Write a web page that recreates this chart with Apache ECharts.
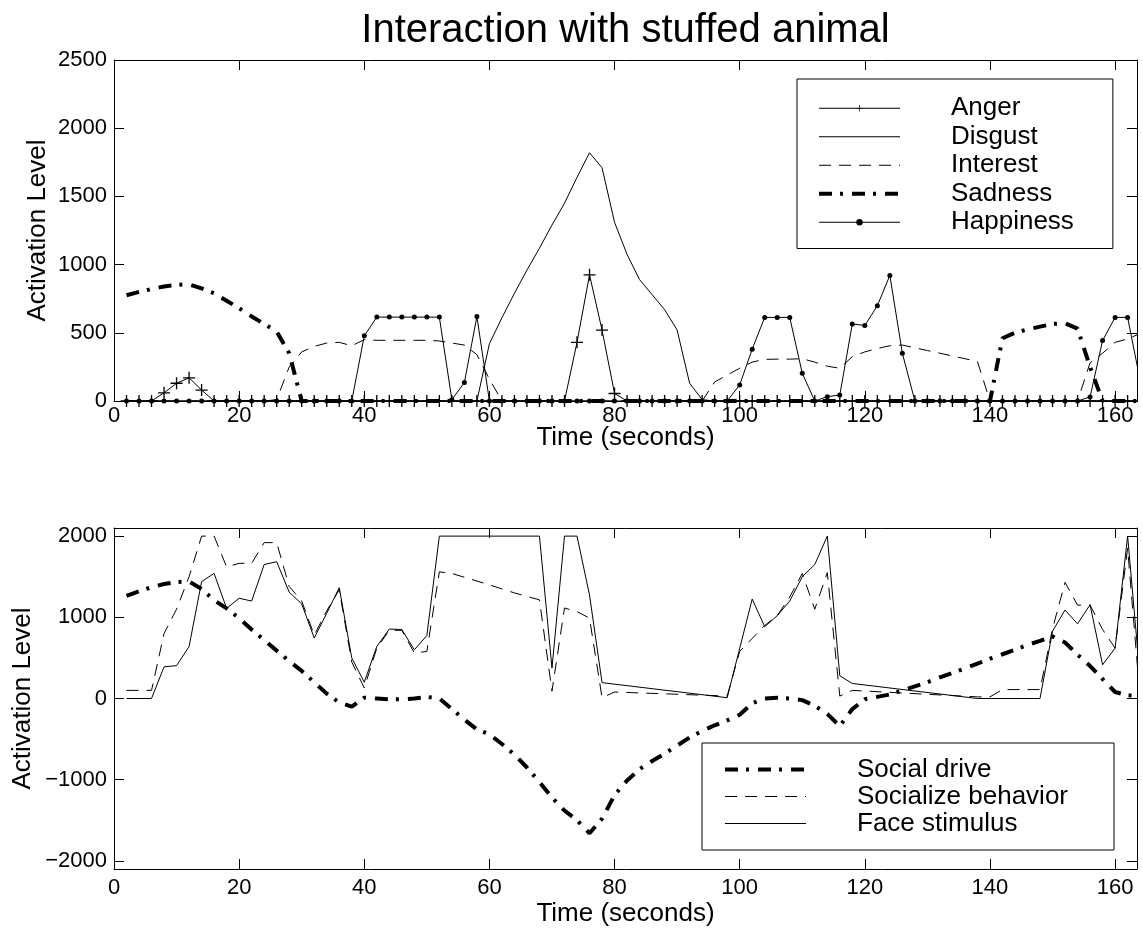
<!DOCTYPE html>
<html lang="en">
<head>
    <meta charset="UTF-8">
    <title>Interaction with stuffed animal</title>
    <style>
        body{ margin:0; background:#fff; }
        #mychart{ width:1143px; height:939px; }
    </style>
</head>
<body>
    <div id="mychart"></div>
    <script src="https://cdn.jsdelivr.net/npm/echarts@6/dist/echarts.min.js"></script>
    <script>
        // top plot: one sample every 2 s
        var times=[2,4,6,8,10,12,14,16,18,20,22,24,26,28,30,32,34,36,38,40,
                   42,44,46,48,50,52,54,56,58,60,62,64,66,68,70,72,74,76,78,80,
                   82,84,86,88,90,92,94,96,98,100,102,104,106,108,110,112,114,116,118,120,
                   122,124,126,128,130,132,134,136,138,140,142,144,146,148,150,152,154,156,158,160,
                   162,164]
        var anger=[0,0,0,60,130,170,80,0,0,0,
                   0,0,0,0,0,0,0,0,0,0,
                   0,0,0,0,0,0,0,0,0,0,
                   0,0,0,0,0,0,430,925,520,55,
                   0,0,0,0,0,0,0,0,0,0,
                   0,0,0,0,0,0,0,0,0,0,
                   0,0,0,0,0,0,0,0,0,0,
                   0,0,0,0,0,0,0,0,0,0,
                   0,0]
        var disgust=[0,0,0,0,0,0,0,0,0,0,
                   0,0,0,0,0,0,0,0,0,0,
                   0,0,0,0,0,0,0,0,0,420,
                   610,790,960,1120,1290,1450,1640,1820,1710,1310,
                   1075,890,780,670,520,130,10,0,0,0,
                   0,0,0,0,0,0,0,0,0,0,
                   0,0,0,0,0,0,0,0,0,0,
                   0,0,0,0,0,0,0,0,0,0,
                   0,0]
        var interest=[0,0,0,0,0,0,0,0,0,0,
                   0,0,10,250,360,400,425,430,405,450,
                   445,445,445,445,445,440,425,410,340,160,
                   0,0,0,0,0,0,0,0,0,0,
                   0,0,0,0,0,0,0,140,190,240,
                   285,305,307,307,310,285,255,240,325,360,
                   385,405,410,390,370,350,330,310,290,0,
                   0,0,0,0,0,0,0,280,350,430,
                   455,495]
        var sadness=[775,800,820,840,852,855,825,790,735,680,
                   620,565,510,350,0,0,0,0,0,0,
                   0,0,0,0,0,0,0,0,0,0,
                   0,0,0,0,0,0,0,0,0,0,
                   0,0,0,0,0,0,0,0,0,0,
                   0,0,0,0,0,0,0,0,0,0,
                   0,0,0,0,0,0,0,0,0,0,
                   460,500,525,545,565,570,530,250,0,0,
                   0,0]
        var happiness=[0,0,0,0,0,0,0,0,0,0,
                   0,0,0,0,0,0,0,0,0,478,
                   615,615,615,615,615,615,10,135,620,0,
                   0,0,0,0,0,0,0,0,0,0,
                   0,0,0,0,0,0,0,0,0,118,
                   380,613,613,613,203,0,32,44,564,554,
                   698,921,350,0,0,0,0,0,0,0,
                   0,0,0,0,0,0,0,30,443,613,
                   613,150]

        // bottom plot: [time, level] at the corners of each line
        var socialDrive=[[2,1265],[4,1320],[6,1370],[8,1410],[10,1435],[12,1440],[14,1350],[16,1210],[18,1110],[20,990],
                   [22,850],[24,720],[26,590],[28,460],[30,340],[32,200],[34,60],[36,-50],[38,-100],[40,10],
                   [42,0],[44,-10],[46,-10],[48,0],[50,20],[52,0],[54,-130],[56,-260],[58,-380],[60,-440],
                   [62,-560],[64,-690],[66,-850],[68,-1030],[70,-1220],[72,-1380],[74,-1500],[76,-1660],[78,-1480],[80,-1190],
                   [82,-1010],[84,-870],[86,-770],[88,-680],[90,-580],[92,-480],[94,-400],[96,-330],[98,-270],[100,-200],
                   [102,-60],[104,0],[106,10],[108,0],[110,-20],[112,-90],[114,-190],[116,-340],[118,-130],[120,-10],
                   [122,20],[124,50],[126,100],[128,150],[130,200],[132,260],[134,315],[136,370],[138,430],[140,490],
                   [142,545],[144,600],[146,660],[148,710],[150,765],[152,690],[154,540],[156,400],[158,240],[160,80],
                   [162,40],[164,25]]
        var socializeBehavior=[[2,100],[6,100],[8,800],[10,1100],[12,1500],[14,2000],[16,2000],[18,1620],[20,1665],[22,1665],
                   [24,1920],[26,1920],[28,1380],[30,1200],[32,780],[34,1080],[36,1340],[38,450],[40,130],[42,620],
                   [44,840],[46,840],[48,560],[50,580],[52,1560],[54,1540],[60,1400],[64,1300],[68,1215],[70,90],
                   [72,1115],[74,1070],[76,990],[78,10],[80,80],[98,30],[100,580],[102,740],[104,900],[106,1020],
                   [108,1250],[110,1540],[112,1100],[114,1550],[116,30],[118,100],[138,20],[140,20],[142,110],[148,110],
                   [150,860],[152,1430],[154,1150],[156,1150],[158,850],[160,620],[162,1850],[164,0]]
        var faceStimulus=[[2,0],[6,0],[8,390],[10,405],[12,640],[14,1440],[16,1540],[18,1110],[20,1235],[22,1200],
                   [24,1650],[26,1685],[28,1310],[30,1165],[32,745],[34,1050],[36,1365],[38,500],[40,200],[42,640],
                   [44,855],[46,850],[48,600],[50,775],[52,2000],[68,2000],[70,375],[72,2000],[74,2000],[76,1275],
                   [78,195],[98,10],[102,1225],[104,885],[106,1020],[108,1200],[110,1500],[112,1650],[114,2000],[116,280],
                   [118,185],[138,0],[148,0],[150,830],[152,1090],[154,920],[156,1155],[158,415],[160,620],[162,2000],
                   [164,250]]

        var xTicks=[0,20,40,60,80,100,120,140,160]
        var yTicksTop=[0,500,1000,1500,2000,2500]
        var yTicksBottom=[-2000,-1000,0,1000,2000]

        var font='"Liberation Sans", Arial, sans-serif'
        var black='#000'
        var plusPath='path://M0,4.45H10V5.55H0Z M4.45,0H5.55V10H4.45Z'
        var dashLine=[12,8]
        var dashDot=[13,8,3,9]

        var myChart=echarts.init(document.getElementById('mychart'))

        function xAx(grid,pos,extra){
            var ax={
                type:'value',gridIndex:grid,position:pos,min:0,max:163.5,nameMoveOverlap:false,
                axisLine:{show:true,onZero:false,lineStyle:{color:black,width:1}},
                axisTick:{show:true,inside:true,length:10,customValues:xTicks,lineStyle:{color:black}},
                axisLabel:{show:pos=='bottom',customValues:xTicks,color:black,fontSize:22,fontFamily:font,margin:8},
                splitLine:{show:false}
            }
            return Object.assign(ax,extra||{})
        }
        function yAx(grid,pos,min,max,ticks,extra){
            var ax={
                type:'value',gridIndex:grid,position:pos,min:min,max:max,nameMoveOverlap:false,
                axisLine:{show:true,onZero:false,lineStyle:{color:black,width:1}},
                axisTick:{show:true,inside:true,length:10,customValues:ticks,lineStyle:{color:black}},
                axisLabel:{show:pos=='left',customValues:ticks,color:black,fontSize:22,fontFamily:font,margin:7,
                    formatter:function(v){return v<0?'\u2212'+(-v):''+v}},
                splitLine:{show:false}
            }
            return Object.assign(ax,extra||{})
        }
        var nameStyle={color:black,fontSize:26,fontFamily:font}

        function lineSeries(name,data,xi,yi,opts){
            var s={
                name:name,type:'line',xAxisIndex:xi,yAxisIndex:yi,data:data,
                symbol:'none',showAllSymbol:true,
                lineStyle:{color:black,width:1,type:'solid'},
                itemStyle:{color:black},
                emphasis:{disabled:true}
            }
            return Object.assign(s,opts||{})
        }
        function pairs(vals){
            return times.map(function(t,i){return [t,vals[i]]})
        }

        var legendText={color:black,fontSize:26,fontFamily:font,padding:[0,0,0,46],lineHeight:28.5}

        var topX=xAx(0,'bottom',{name:'Time (seconds)',nameLocation:'middle',nameGap:24,nameTextStyle:nameStyle})
        topX.axisLabel.margin=4

        var option={
            animation:false,
            backgroundColor:'#fff',
            grid:[
                {left:114,top:60,width:1023,height:341},
                {left:114,top:528,width:1023,height:341}
            ],
            xAxis:[
                topX,
                xAx(0,'top',{name:'Interaction with stuffed animal',nameLocation:'middle',nameGap:9,
                    nameTextStyle:{color:black,fontSize:40,fontFamily:font}}),
                xAx(1,'bottom',{name:'Time (seconds)',nameLocation:'middle',nameGap:32,nameTextStyle:nameStyle}),
                xAx(1,'top')
            ],
            yAxis:[
                yAx(0,'left',0,2500,yTicksTop,{name:'Activation Level',nameLocation:'middle',nameGap:63,nameTextStyle:nameStyle}),
                yAx(0,'right',0,2500,yTicksTop),
                yAx(1,'left',-2100,2100,yTicksBottom,{name:'Activation Level',nameLocation:'middle',nameGap:78,nameTextStyle:nameStyle}),
                yAx(1,'right',-2100,2100,yTicksBottom)
            ],
            legend:[
                {
                    left:797,top:79,orient:'vertical',
                    padding:[15,39,12,20],itemGap:0,itemWidth:81,itemHeight:8,
                    borderColor:black,borderWidth:1,backgroundColor:'#fff',
                    selectedMode:false,textStyle:legendText,
                    lineStyle:{width:1},
                    data:[
                        {name:'Anger'},
                        {name:'Disgust',itemStyle:{opacity:0}},
                        {name:'Interest',itemStyle:{opacity:0}},
                        {name:'Sadness',itemStyle:{opacity:0},lineStyle:{width:4}},
                        {name:'Happiness'}
                    ]
                },
                {
                    left:702,top:743,orient:'vertical',
                    padding:[13,46,13,21],itemGap:0,itemWidth:81,itemHeight:8,
                    borderColor:black,borderWidth:1,backgroundColor:'#fff',
                    selectedMode:false,textStyle:Object.assign({},legendText,{lineHeight:27}),
                    lineStyle:{width:1},
                    data:[
                        {name:'Social drive',itemStyle:{opacity:0},lineStyle:{width:4}},
                        {name:'Socialize behavior',itemStyle:{opacity:0}},
                        {name:'Face stimulus',itemStyle:{opacity:0}}
                    ]
                }
            ],
            series:[
                lineSeries('Anger',pairs(anger),0,0,{symbol:plusPath,symbolSize:12}),
                lineSeries('Disgust',pairs(disgust),0,0),
                lineSeries('Interest',pairs(interest),0,0,{lineStyle:{color:black,width:1,type:dashLine}}),
                lineSeries('Sadness',pairs(sadness),0,0,{lineStyle:{color:black,width:4,type:dashDot}}),
                lineSeries('Happiness',pairs(happiness),0,0,{symbol:'circle',symbolSize:5}),
                lineSeries('Social drive',socialDrive,2,2,{lineStyle:{color:black,width:4,type:dashDot}}),
                lineSeries('Socialize behavior',socializeBehavior,2,2,{lineStyle:{color:black,width:1,type:dashLine}}),
                lineSeries('Face stimulus',faceStimulus,2,2)
            ]
        }
        myChart.setOption(option)
    </script>
</body>
</html>
